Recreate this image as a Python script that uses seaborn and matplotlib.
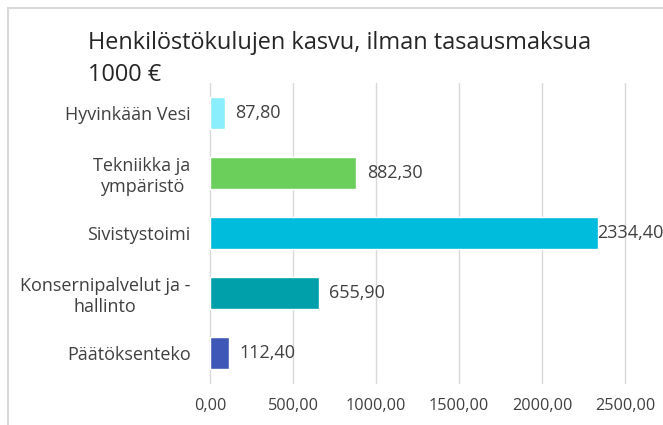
import matplotlib
matplotlib.use("Agg")
import matplotlib.pyplot as plt
import seaborn as sns
import pandas as pd
from matplotlib.patches import Rectangle

categories = ["Hyvinkään Vesi", "Tekniikka ja\nympäristö", "Sivistystoimi",
              "Konsernipalvelut ja -\nhallinto", "Päätöksenteko"]
values = [87.80, 882.30, 2334.40, 655.90, 112.40]
colors = ["#8AEEFC", "#6BCF5B", "#00BCDC", "#00A0AA", "#3F58B8"]
xticks = [0, 500, 1000, 1500, 2000, 2500]
title_line1 = "Henkilöstökulujen kasvu, ilman tasausmaksua"
title_line2 = "1000 €"

sns.set_theme(style="white")
plt.rcParams['font.family'] = ['Open Sans', 'DejaVu Sans']

W, H = 663, 425
fig = plt.figure(figsize=(W / 100, H / 100), dpi=100)
ax = fig.add_axes([210 / W, (H - 383) / H, (625 - 210) / W, 300 / H])

df = pd.DataFrame({"cat": categories, "val": values})
sns.barplot(data=df, y="cat", x="val", hue="cat", palette=dict(zip(categories, colors)),
            orient="h", width=0.52, legend=False, ax=ax, saturation=1)

ax.set_xlim(0, 2500)
ax.set_xticks(xticks)
ax.set_xticklabels([f"{t:.2f}".replace(".", ",") for t in xticks], fontsize=11.7, color="#404040")
ax.tick_params(axis="x", length=0, pad=11)
ax.tick_params(axis="y", length=0, pad=14)
for lbl in ax.get_yticklabels():
    lbl.set_multialignment("center")
    lbl.set_fontsize(13)
    lbl.set_color("#404040")
ax.set_xlabel("")
ax.set_ylabel("")
ax.grid(axis="x", color="#D9D9D9", linewidth=1)
ax.grid(axis="y", visible=False)
for gl in ax.get_xgridlines():
    gl.set_clip_on(False)
ax.set_axisbelow(True)
for s in ax.spines.values():
    s.set_visible(False)

for i, v in enumerate(values):
    off = 0 if v == max(values) else 7.5
    ax.annotate(f"{v:.2f}".replace(".", ","), xy=(v, i), xytext=(off, 0),
                textcoords="offset points", va="center", ha="left",
                fontsize=13, color="#404040")

fig.text(88 / W, 1 - 43 / H, title_line1, fontsize=16.9, color="#262626", va="center", ha="left")
fig.text(88 / W, 1 - 75 / H, title_line2, fontsize=16.9, color="#262626", va="center", ha="left")

fig.patches.append(Rectangle((8 / W, -0.05), 1.2, 1 - 8 / H + 0.05, transform=fig.transFigure,
                             fill=False, edgecolor="#D9D9D9", linewidth=1.5))

fig.savefig("out.png", dpi=100)
